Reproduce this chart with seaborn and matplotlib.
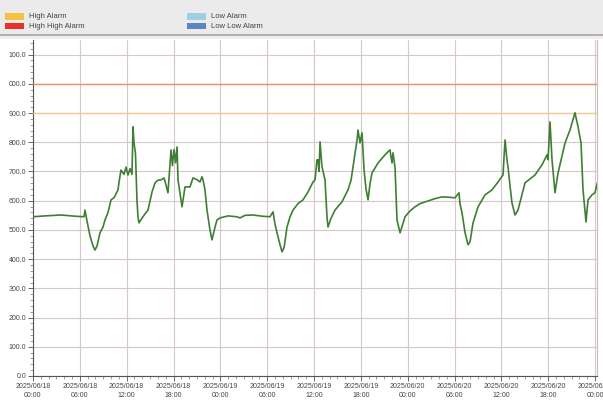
import numpy as np
import pandas as pd
import matplotlib
matplotlib.use("Agg")
import matplotlib.pyplot as plt
import matplotlib.dates as mdates
from matplotlib.patches import Rectangle
from matplotlib.ticker import MultipleLocator, FixedLocator, FixedFormatter
import seaborn as sns

# ---- data (hours since 2025-06-18 00:00, value) ----
hours = [0.0, 1.54, 3.59, 5.38, 6.53, 6.66, 6.92, 7.30, 7.69, 7.94, 8.20, 8.58, 8.97, 9.22, 9.61,
         10.0, 10.38, 10.89, 11.0, 11.27, 11.66, 11.91, 12.17, 12.43, 12.68, 12.81, 12.94, 13.13,
         13.32, 13.45, 13.58, 13.96, 14.35, 14.73, 15.25, 15.63, 16.01, 16.4, 16.78, 17.04, 17.29,
         17.49, 17.68, 17.87, 18.06, 18.26, 18.45, 18.58, 18.83, 19.09, 19.47, 20.11, 20.5, 21.01,
         21.39, 21.65, 21.78, 22.03, 22.29, 22.67, 22.93, 23.32, 23.57, 23.96, 24.98, 26.13, 26.52,
         27.16, 28.18, 29.34, 30.36, 30.75, 31.0, 31.26, 31.64, 31.9, 32.16, 32.54, 32.93, 33.31,
         33.95, 34.59, 35.23, 35.87, 36.13, 36.38, 36.51, 36.64, 36.77, 37.02, 37.41, 37.66, 37.79,
         38.18, 38.69, 39.58, 40.35, 40.74, 41.0, 41.51, 41.63, 41.89, 42.15, 42.41, 42.66, 42.92,
         43.18, 43.43, 44.2, 45.09, 45.73, 45.99, 46.12, 46.38, 46.63, 47.02, 47.66, 48.3, 48.94,
         49.58, 50.6, 51.5, 52.4, 53.16, 54.06, 54.57, 54.7, 54.96, 55.35, 55.73, 55.99, 56.37,
         57.01, 57.91, 58.8, 59.57, 60.21, 60.47, 60.72, 60.85, 61.11, 61.36, 61.75, 62.13, 63.03,
         64.31, 65.21, 65.85, 65.98, 66.23, 66.49, 66.87, 67.26, 68.16, 68.79, 69.43, 69.82, 70.2,
         70.46, 70.84, 71.1, 71.61, 71.99, 72.3]
values = [545, 548, 551, 547, 545, 568, 530, 480, 445, 431, 445, 490, 510, 534, 560,
          603, 610, 637, 660, 705, 690, 715, 688, 710, 690, 853, 798, 760,
          600, 545, 524, 540, 555, 568, 630, 661, 670, 671, 678, 654, 627,
          700, 774, 720, 775, 730, 784, 671, 627, 579, 647, 647, 678, 672,
          664, 682, 671, 637, 568, 500, 466, 510, 534, 541, 548, 545, 541,
          550, 551, 547, 545, 562, 520, 490, 450, 425, 440, 510, 545, 568,
          590, 603, 630, 664, 671, 740, 740, 700, 801, 716, 671, 545, 510,
          540, 568, 596, 637, 670, 716, 808, 842, 798, 832, 705, 640, 603,
          660, 695, 729, 757, 774, 729, 764, 712, 534, 490, 545, 565, 579,
          590, 599, 607, 613, 612, 610, 627, 590, 558, 490, 449, 460, 524,
          579, 620, 637, 664, 688, 808, 740, 716, 650, 592, 551, 568, 661,
          688, 723, 757, 740, 870, 740, 627, 695, 798, 842, 901, 853, 798,
          637, 527, 603, 620, 627, 661]

high_high_alarm = 1000.0
high_alarm = 900.0

y_ticks = [0, 100, 200, 300, 400, 500, 600, 700, 800, 900, 1000, 1100]
y_tick_labels = ["0.0", "100.0", "200.0", "300.0", "400.0", "500.0", "600.0",
                 "700.0", "800.0", "900.0", "000.0", "100.0"]
x_tick_labels = ["2025/06/18\n00:00", "2025/06/18\n06:00", "2025/06/18\n12:00", "2025/06/18\n18:00",
                 "2025/06/19\n00:00", "2025/06/19\n06:00", "2025/06/19\n12:00", "2025/06/19\n18:00",
                 "2025/06/20\n00:00", "2025/06/20\n06:00", "2025/06/20\n12:00", "2025/06/20\n18:00",
                 "2025/06/21\n00:00"]
legend_names = ["High Alarm", "High High Alarm", "Low Alarm", "Low Low Alarm"]
legend_colors = ["#f5c242", "#e8322c", "#9fd0e2", "#5b86c6"]

start = pd.Timestamp("2025-06-18 00:00")
df = pd.DataFrame({"time": start + pd.to_timedelta(hours, unit="h"), "value": values})

sns.set_style("white")
plt.rcParams["font.family"] = ["Liberation Sans", "DejaVu Sans"]

fig = plt.figure(figsize=(6.03, 4.0), dpi=100)
fig.patch.set_facecolor("white")

# header band
fig.patches.append(Rectangle((0, 1 - 34 / 400), 1, 34 / 400, transform=fig.transFigure,
                             facecolor="#ebebeb", edgecolor="none", zorder=0))
fig.patches.append(Rectangle((0, 1 - 35.5 / 400), 1, 1.5 / 400, transform=fig.transFigure,
                             facecolor="#b9afaf", edgecolor="none", zorder=1))
fig.patches.append(Rectangle((0, 1 - 39 / 400), 1, 3.5 / 400, transform=fig.transFigure,
                             facecolor="#eeeeee", edgecolor="none", zorder=0))

leg_pos = [(5, 13), (5, 22.5), (187, 13), (187, 22.5)]
for (px, py), name, col in zip(leg_pos, legend_names, legend_colors):
    fig.patches.append(Rectangle((px / 603, 1 - (py + 6.5) / 400), 19 / 603, 6.5 / 400,
                                 transform=fig.transFigure, facecolor=col, edgecolor="none", zorder=2))
    fig.text((px + 24) / 603, 1 - (py + 3.5) / 400, name, fontsize=5.5, color="#444444",
             va="center", ha="left")

ax = fig.add_axes([33 / 603, 24 / 400, (597 - 33) / 603, (376 - 40) / 400])
ax.set_facecolor("white")

sns.lineplot(data=df, x="time", y="value", ax=ax, color="#3f7f35", linewidth=1.2, zorder=5)

ax.axhline(high_high_alarm, color="#ec8f66", linewidth=1.0, zorder=4)
ax.axhline(high_alarm, color="#f2c990", linewidth=1.0, zorder=4)

x0 = mdates.date2num(start)
ax.set_xlim(x0, x0 + 72.25 / 24)
ax.set_ylim(0, 1150)

xt = [x0 + i * 0.25 for i in range(13)]
ax.xaxis.set_major_locator(FixedLocator(xt))
ax.xaxis.set_major_formatter(FixedFormatter(x_tick_labels))
ax.xaxis.set_minor_locator(FixedLocator([x0 + i / 24 for i in range(73)]))
ax.yaxis.set_major_locator(FixedLocator(y_ticks))
ax.yaxis.set_major_formatter(FixedFormatter(y_tick_labels))
ax.yaxis.set_minor_locator(MultipleLocator(20))

ax.grid(True, which="major", color="#d6c8c8", linewidth=0.8)
ax.set_axisbelow(True)
ax.set_xlabel("")
ax.set_ylabel("")

ax.tick_params(axis="both", which="major", length=3.5, width=0.7, color="#666666",
               labelsize=5, labelcolor="#444444", pad=1.5, direction="out")
ax.tick_params(axis="both", which="minor", length=2, width=0.5, color="#777777", direction="out")
ax.tick_params(axis="x", which="both", bottom=True)
ax.tick_params(axis="y", which="both", left=True)
for lbl in ax.get_xticklabels():
    lbl.set_linespacing(1.4)
    lbl.set_ha("center")

for side in ["left", "bottom"]:
    ax.spines[side].set_color("#555555")
    ax.spines[side].set_linewidth(0.8)
ax.spines["top"].set_visible(False)
ax.spines["right"].set_color("#cbbebe")
ax.spines["right"].set_linewidth(0.8)

fig.savefig("out.png", dpi=100)
